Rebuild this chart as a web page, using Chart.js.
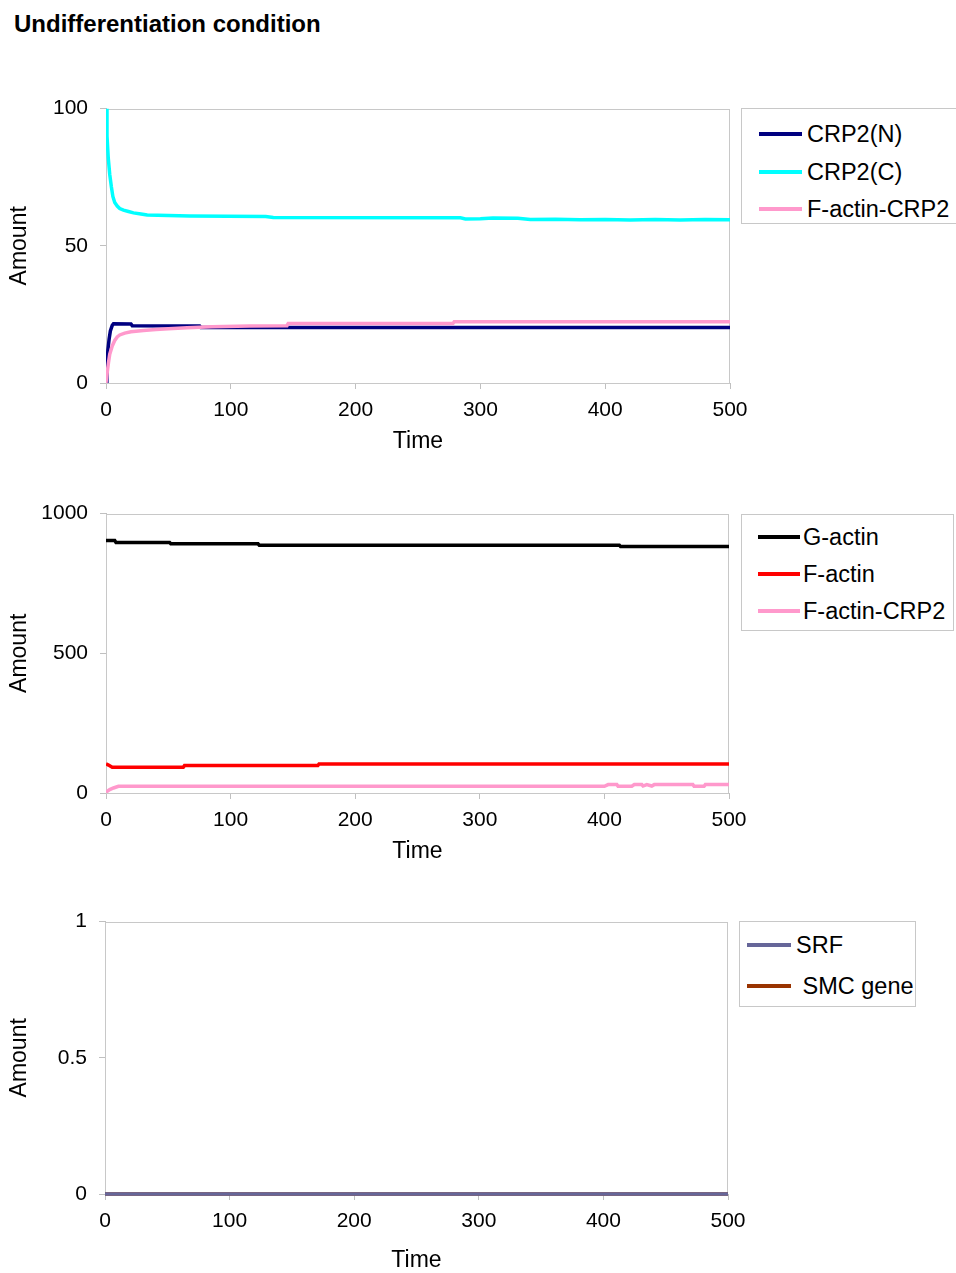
<!DOCTYPE html>
<html>
<head>
<meta charset="utf-8">
<script src="https://cdn.jsdelivr.net/npm/chart.js@4.4.0/dist/chart.umd.min.js"></script>
<style>
  body { margin: 0; width: 956px; height: 1273px; overflow: hidden; background: #fff; position: relative;
         font-family: "Liberation Sans", Arial, sans-serif; color: #000; }
  #title { position: absolute; left: 14px; top: 10px; font-size: 24px; font-weight: bold; }
  canvas { position: absolute; left: 0; }
  .legend { position: absolute; border: 1px solid #c8c8c8; background: #fff; }
  .row { position: absolute; left: 0; height: 30px; line-height: 30px; font-size: 23.5px; white-space: pre; }
  .row i { position: absolute; top: 13px; height: 4px; }
</style>
</head>
<body>
<div id="title">Undifferentiation condition</div>
<canvas id="c1" width="760" height="371" style="top:84px"></canvas>
<canvas id="c2" width="760" height="376" style="top:489px"></canvas>
<canvas id="c3" width="760" height="377" style="top:897px"></canvas>

<script>
// ---- top chart: CRP2 ----
const crp2nT = [0, 0.7, 1.5, 2.5, 3.5, 5, 6, 20, 21, 75, 76, 500];
const crp2nV = [0, 6, 12, 16, 19, 21, 21.6, 21.5, 20.9, 20.8, 20.2, 20.2];
const crp2cT = [0, 0.8, 1.8, 3, 4.3, 5.5, 7, 9, 11, 14, 18, 22, 28, 33, 67, 128, 134, 284, 288, 300, 310, 330, 340, 360, 380, 400, 420, 440, 460, 480, 500];
const crp2cV = [100, 90, 82, 76, 71.5, 68, 65.8, 64.5, 63.6, 63, 62.5, 62, 61.6, 61.2, 60.9, 60.7, 60.3, 60.2, 59.8, 59.9, 60.1, 60.0, 59.6, 59.7, 59.5, 59.6, 59.4, 59.6, 59.4, 59.6, 59.5];
const fCrp2T = [0, 1, 2, 3, 5, 7, 9, 11, 15, 20, 30, 40, 50, 65, 85, 115, 145, 146, 278, 279, 500];
const fCrp2V = [0, 4, 7.5, 10.5, 13.5, 15.5, 16.8, 17.5, 18.2, 18.7, 19.1, 19.5, 19.8, 20.1, 20.5, 20.8, 20.9, 21.7, 21.7, 22.3, 22.3];

// ---- middle chart: actin ----
const gActinT = [0, 7, 8, 51, 52, 122, 123, 412, 413, 500];
const gActinV = [904, 904, 897, 897, 892, 892, 887, 887, 882, 882];
const fActinT = [0, 2, 5, 62, 63, 170, 171, 500];
const fActinV = [104, 100, 92, 92, 98, 98, 104, 104];
const fActCrpT = [0, 3, 6, 10, 400, 403, 410, 411, 422, 424, 430, 431, 434, 438, 440, 471, 472, 480, 481, 500];
const fActCrpV = [3, 12, 18, 24, 24, 30, 30, 24, 24, 30, 30, 25, 30, 25, 30, 30, 24, 24, 30, 30];

// ---- bottom chart: SRF / SMC gene ----
const srfT = [0, 500];
const srfV = [0, 0];
const smcT = [0, 500];
const smcV = [0, 0];

const timeTicks = [0, 100, 200, 300, 400, 500];

function pts(t, v) { return t.map((x, i) => ({ x: x, y: v[i] })); }

const frame = {
  id: 'frame',
  beforeDatasetsDraw(chart) {
    const a = chart.chartArea, ctx = chart.ctx;
    ctx.save();
    ctx.strokeStyle = '#c8c8c8';
    ctx.lineWidth = 1;
    ctx.strokeRect(Math.round(a.left) + 0.5, Math.round(a.top) + 0.5, Math.round(a.right - a.left) - 1, Math.round(a.bottom - a.top));
    ctx.restore();
  }
};

function makeChart(id, sets, yMax, yStep, rightPad, axisH, yWidth) {
  return new Chart(document.getElementById(id), {
    type: 'line',
    data: { datasets: sets },
    plugins: [frame],
    options: {
      responsive: false,
      animation: false,
      layout: { padding: { top: 10, right: rightPad, left: 0, bottom: 0 } },
      elements: { point: { radius: 0 }, line: { borderWidth: 3.5, tension: 0 } },
      plugins: { legend: { display: false }, tooltip: { enabled: false } },
      scales: {
        x: {
          type: 'linear', min: 0, max: 500,
          afterBuildTicks: s => { s.ticks = timeTicks.map(v => ({ value: v })); },
          ticks: { color: '#000', font: { size: 21 }, padding: 9 },
          grid: { drawOnChartArea: false, tickLength: 6, color: '#c0c0c0' },
          border: { color: '#c0c0c0' },
          title: { display: true, text: 'Time', color: '#000', font: { size: 23 }, padding: { top: 0, bottom: 0 } },
          afterFit: s => { s.height = axisH; }
        },
        y: {
          min: 0, max: yMax,
          ticks: { stepSize: yStep, color: '#000', font: { size: 21 }, padding: 12, callback: v => String(v) },
          grid: { drawOnChartArea: false, tickLength: 6, color: '#c0c0c0' },
          border: { color: '#c0c0c0' },
          title: { display: true, text: 'Amount', color: '#000', font: { size: 23 }, padding: { top: 6, bottom: 0 } },
          afterFit: s => { s.width = yWidth; }
        }
      }
    }
  });
}

makeChart('c1', [
  { label: 'CRP2(N)', data: pts(crp2nT, crp2nV), borderColor: '#000080', order: 0 },
  { label: 'CRP2(C)', data: pts(crp2cT, crp2cV), borderColor: '#00ffff', order: -1 },
  { label: 'F-actin-CRP2', data: pts(fCrp2T, fCrp2V), borderColor: '#ff99cc', order: -2 }
], 100, 50, 30, 72, 106);

makeChart('c2', [
  { label: 'G-actin', data: pts(gActinT, gActinV), borderColor: '#000000', order: 0 },
  { label: 'F-actin', data: pts(fActinT, fActinV), borderColor: '#ff0000', order: -1 },
  { label: 'F-actin-CRP2', data: pts(fActCrpT, fActCrpV), borderColor: '#ff99cc', order: -2 }
], 1000, 500, 31, 72, 106);

makeChart('c3', [
  { label: 'SRF', data: pts(srfT, srfV), borderColor: '#666699', order: -1, clip: false },
  { label: 'SMC gene', data: pts(smcT, smcV), borderColor: '#993300', order: 0, clip: false }
], 1, 0.5, 32, 80, 105);

// legends as plain text boxes
function legend(box, rows) {
  const d = document.createElement('div');
  d.className = 'legend';
  Object.assign(d.style, { left: box[0] + 'px', top: box[1] + 'px', width: box[2] + 'px', height: box[3] + 'px' });
  rows.forEach(r => {
    const row = document.createElement('div');
    row.className = 'row';
    row.style.top = (r.cy - box[1] - 15) + 'px';
    const line = document.createElement('i');
    Object.assign(line.style, { left: (r.x0 - box[0]) + 'px', width: (r.x1 - r.x0) + 'px', background: r.color });
    const txt = document.createElement('span');
    txt.style.position = 'absolute';
    txt.style.left = (r.tx - box[0]) + 'px';
    txt.textContent = r.label;
    row.appendChild(line);
    row.appendChild(txt);
    d.appendChild(row);
  });
  document.body.appendChild(d);
}

legend([741, 108, 240, 114], [
  { label: 'CRP2(N)', color: '#000080', cy: 133, x0: 758, x1: 801, tx: 806 },
  { label: 'CRP2(C)', color: '#00ffff', cy: 171, x0: 758, x1: 801, tx: 806 },
  { label: 'F-actin-CRP2', color: '#ff99cc', cy: 208, x0: 758, x1: 801, tx: 806 }
]);
legend([741, 514, 211, 115], [
  { label: 'G-actin', color: '#000000', cy: 536, x0: 757, x1: 799, tx: 802 },
  { label: 'F-actin', color: '#ff0000', cy: 573, x0: 757, x1: 799, tx: 802 },
  { label: 'F-actin-CRP2', color: '#ff99cc', cy: 610, x0: 757, x1: 799, tx: 802 }
]);
legend([739, 921, 175, 84], [
  { label: 'SRF', color: '#666699', cy: 944, x0: 746, x1: 790, tx: 795 },
  { label: ' SMC gene', color: '#993300', cy: 985, x0: 746, x1: 790, tx: 795 }
]);
</script>
</body>
</html>
